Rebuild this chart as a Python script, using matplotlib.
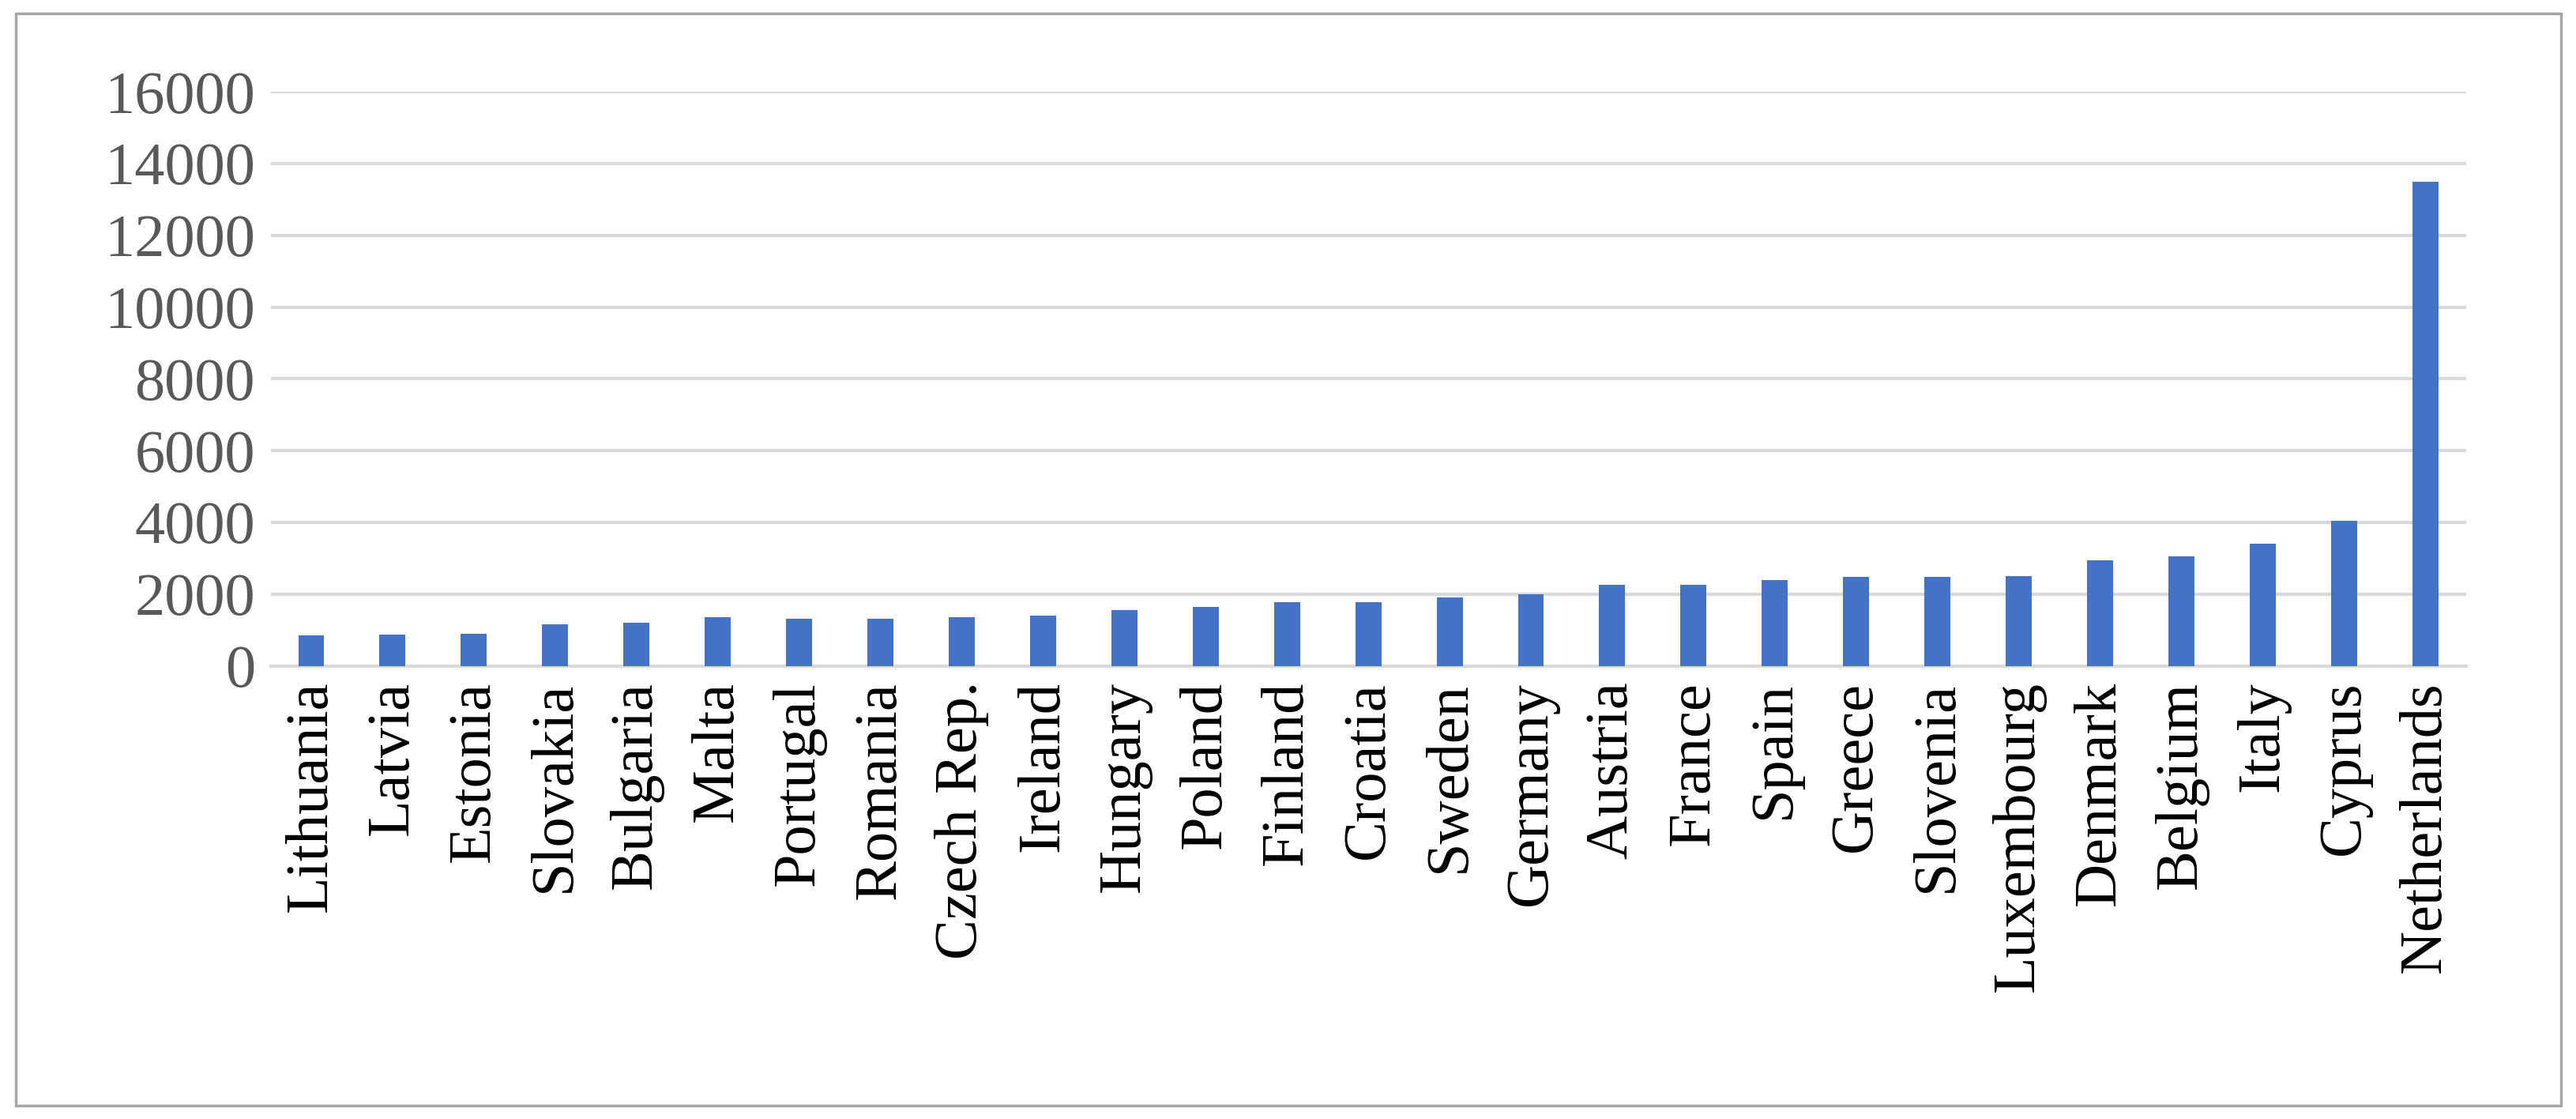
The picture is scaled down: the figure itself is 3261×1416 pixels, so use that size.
import matplotlib
matplotlib.use("Agg")
import matplotlib.pyplot as plt
from matplotlib.patches import Rectangle

countries = ["Lithuania", "Latvia", "Estonia", "Slovakia", "Bulgaria", "Malta", "Portugal",
             "Romania", "Czech Rep.", "Ireland", "Hungary", "Poland", "Finland", "Croatia",
             "Sweden", "Germany", "Austria", "France", "Spain", "Greece", "Slovenia",
             "Luxembourg", "Denmark", "Belgium", "Italy", "Cyprus", "Netherlands"]
values = [850, 870, 900, 1150, 1200, 1350, 1300, 1300, 1350, 1400, 1550, 1650, 1780, 1780,
          1900, 2000, 2250, 2250, 2400, 2480, 2480, 2500, 2950, 3050, 3400, 4050, 13500]

plt.rcParams["font.family"] = ["Liberation Serif", "DejaVu Serif"]

fig = plt.figure(figsize=(32.62, 14.16), dpi=100)
ax = fig.add_axes([0.105, 0.405, 0.852, 0.513])
fig.patches.append(Rectangle((0.006, 0.012), 0.988, 0.976, transform=fig.transFigure,
                             fill=False, edgecolor="#a6a6a6", linewidth=2.5))

x = range(len(countries))
ax.bar(x, values, width=0.32, color="#4472c4", zorder=3)
ax.set_ylim(0, 16000)
ax.set_yticks(range(0, 16001, 2000))
ax.set_xlim(-0.5, len(countries) - 0.5)
ax.set_xticks(list(x))
ax.set_xticklabels(countries, rotation=90)
ax.grid(axis="y", color="#d9d9d9", linewidth=3, zorder=0)
for s in ["top", "right", "left"]:
    ax.spines[s].set_visible(False)
ax.spines["bottom"].set_color("#d9d9d9")
ax.spines["bottom"].set_linewidth(3)
ax.tick_params(axis="both", length=0, labelsize=55, colors="#595959", pad=14)
ax.tick_params(axis="x", colors="black")

fig.savefig("out.png", dpi=100)
